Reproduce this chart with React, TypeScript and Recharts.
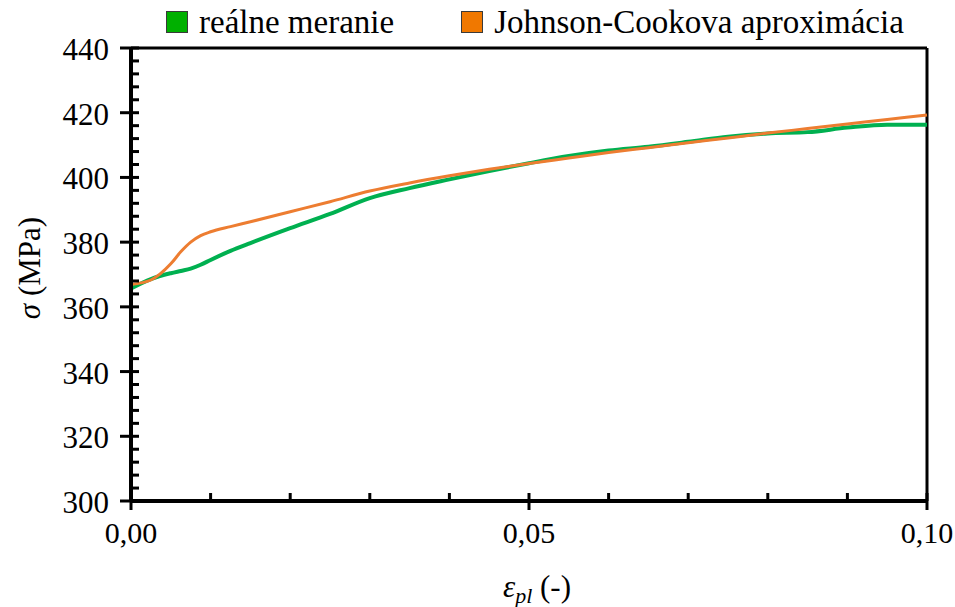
import { LineChart, Line, XAxis, YAxis, Legend, ReferenceLine } from 'recharts';

const strain = [0, 0.0025, 0.005, 0.00625, 0.0075, 0.00875, 0.01, 0.0125, 0.015, 0.02, 0.025, 0.03, 0.035, 0.04, 0.045, 0.05, 0.055, 0.06, 0.065, 0.07, 0.075, 0.08, 0.085, 0.09, 0.095, 0.1];
const measured = [365.7, 368.6, 370.4, 371.1, 371.8, 373.0, 374.5, 377.3, 379.7, 384.3, 388.7, 393.6, 396.7, 399.4, 402.0, 404.4, 406.6, 408.3, 409.5, 411.0, 412.6, 413.6, 414.0, 415.4, 416.3, 416.3];
const johnsonCook = [366.9, 368.3, 373.3, 377.0, 380.0, 382.0, 383.2, 384.8, 386.3, 389.4, 392.5, 395.8, 398.3, 400.5, 402.5, 404.3, 406.0, 407.7, 409.2, 410.7, 412.2, 413.7, 415.1, 416.5, 417.9, 419.3];

const xTicks = [0, 0.01, 0.02, 0.03, 0.04, 0.05, 0.06, 0.07, 0.08, 0.09, 0.1];
const xMajor = [0, 0.05, 0.1];
const xMajorLabels = ['0,00', '0,05', '0,10'];
const yTicks = [300, 304, 308, 312, 316, 320, 324, 328, 332, 336, 340, 344, 348, 352, 356, 360, 364, 368, 372, 376, 380, 384, 388, 392, 396, 400, 404, 408, 412, 416, 420, 424, 428, 432, 436, 440];
const yMajor = [300, 320, 340, 360, 380, 400, 420, 440];
const seriesOrder = ['measured', 'johnsonCook'];

const chartData = strain.map((eps, i) => ({ eps, measured: measured[i], johnsonCook: johnsonCook[i] }));

const FONT = '"Liberation Serif", "DejaVu Serif", serif';
const legendFill: Record<string, string> = { measured: '#00b000', johnsonCook: '#f07800' };

function XTick(props: any) {
  const { x, y, payload } = props;
  const idx = xMajor.findIndex((v) => Math.abs(v - payload.value) < 1e-9);
  const major = idx >= 0;
  return (
    <g>
      <line x1={x} x2={x} y1={y - 8} y2={major ? y + 9 : y} stroke="#000" strokeWidth={3} />
      {major && (
        <text x={x} y={y + 42} textAnchor="middle" fontSize={30} style={{ fontFamily: FONT }} fill="#000">
          {xMajorLabels[idx]}
        </text>
      )}
    </g>
  );
}

function YTick(props: any) {
  const { x, y, payload } = props;
  const major = yMajor.includes(payload.value);
  return (
    <g>
      <line x1={major ? x - 11 : x} x2={x + 8} y1={y} y2={y} stroke="#000" strokeWidth={3} />
      {major && (
        <text x={x - 22} y={y + 12} textAnchor="end" fontSize={31} style={{ fontFamily: FONT }} fill="#000">
          {payload.value}
        </text>
      )}
    </g>
  );
}

function XTitle() {
  return (
    <text x={537} y={597} textAnchor="middle" fontSize={31} style={{ fontFamily: FONT }} fill="#000">
      <tspan fontStyle="italic">ε</tspan>
      <tspan fontStyle="italic" fontSize={22} dy={6}>pl</tspan>
      <tspan dy={-6}>{'  (-)'}</tspan>
    </text>
  );
}

function YTitle() {
  return (
    <text x={40} y={268} transform="rotate(-90, 40, 268)" textAnchor="middle" fontSize={31} style={{ fontFamily: FONT }} fill="#000">
      <tspan fontStyle="italic">σ</tspan>
      <tspan>{' (MPa)'}</tspan>
    </text>
  );
}

function LegendContent(props: any) {
  const items = [...(props.payload || [])].sort(
    (a: any, b: any) => seriesOrder.indexOf(a.dataKey) - seriesOrder.indexOf(b.dataKey)
  );
  return (
    <div style={{ display: 'flex', alignItems: 'center', width: 955, height: 44, paddingLeft: 166, boxSizing: 'border-box', fontFamily: FONT, fontSize: 33, lineHeight: '44px', color: '#000', whiteSpace: 'nowrap' }}>
      {items.map((item: any) => (
        <div key={item.dataKey} style={{ display: 'flex', alignItems: 'center', marginRight: 67, flex: 'none' }}>
          <span style={{ width: 22, height: 22, boxSizing: 'border-box', border: '1.5px solid #3a3a3a', background: legendFill[item.dataKey], marginRight: 11 }} />
          <span>{item.value}</span>
        </div>
      ))}
    </div>
  );
}

export default function App() {
  return (
    <div style={{ position: 'absolute', left: 0, top: 0, background: '#fff' }}>
      <LineChart width={955} height={607} data={chartData} margin={{ top: 48, right: 28, bottom: 46, left: 51 }}>
        <XAxis
          dataKey="eps"
          type="number"
          domain={[0, 0.1]}
          ticks={xTicks}
          interval={0}
          tickSize={0}
          tickMargin={0}
          tick={<XTick />}
          axisLine={{ stroke: '#000', strokeWidth: 4 }}
          height={60}
          label={<XTitle />}
        />
        <YAxis
          type="number"
          domain={[300, 440]}
          ticks={yTicks}
          interval={0}
          tickSize={0}
          tickMargin={0}
          tick={<YTick />}
          axisLine={{ stroke: '#000', strokeWidth: 4 }}
          width={80}
          label={<YTitle />}
        />
        <ReferenceLine y={440} stroke="#000" strokeWidth={3} />
        <ReferenceLine x={0.1} stroke="#000" strokeWidth={3} />
        <Legend
          layout="horizontal"
          verticalAlign="middle"
          align="center"
          wrapperStyle={{ top: 0, left: 0, width: 955 }}
          content={<LegendContent />}
        />
        <Line
          type="monotone"
          dataKey="measured"
          name="reálne meranie"
          stroke="#00b050"
          strokeWidth={4}
          dot={false}
          isAnimationActive={false}
        />
        <Line
          type="monotone"
          dataKey="johnsonCook"
          name="Johnson-Cookova aproximácia"
          stroke="#ed7d31"
          strokeWidth={3}
          dot={false}
          isAnimationActive={false}
        />
      </LineChart>
    </div>
  );
}
